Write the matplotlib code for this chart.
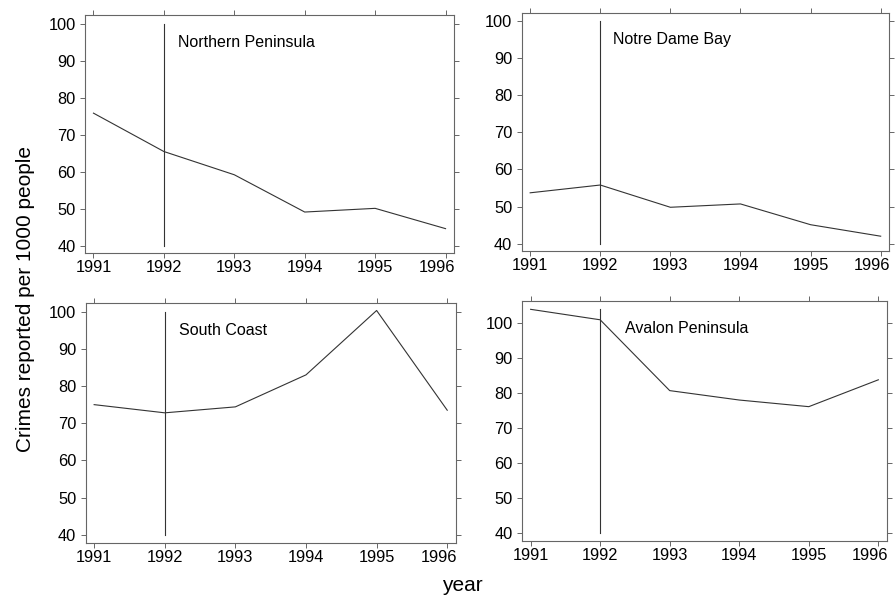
import matplotlib
matplotlib.use("Agg")
import matplotlib.pyplot as plt
from matplotlib.transforms import ScaledTranslation

plt.rcParams['font.family'] = ['Liberation Sans', 'DejaVu Sans']

years = [1991, 1992, 1993, 1994, 1995, 1996]
regions = ["Northern Peninsula", "Notre Dame Bay", "South Coast", "Avalon Peninsula"]
northern = [75.9, 65.5, 59.2, 49.1, 50.1, 44.6]
notre_dame = [53.7, 55.8, 49.8, 50.7, 45.1, 42.0]
south_coast = [75.0, 72.8, 74.4, 83.0, 100.3, 73.5]
avalon = [104.0, 101.0, 80.7, 78.0, 76.1, 83.8]
series = [northern, notre_dame, south_coast, avalon]
yticks = [40, 50, 60, 70, 80, 90, 100]
event_year = 1992
event_tops = [100, 100, 100, 104]

positions = [
    [0.0949, 0.5748, 0.4118, 0.4000],
    [0.5823, 0.5787, 0.4100, 0.3990],
    [0.0956, 0.0879, 0.4130, 0.4034],
    [0.5829, 0.0908, 0.4067, 0.4034],
]
ylims = [(38.0, 102.5), (38.1, 102.1), (37.9, 102.4), (37.6, 106.4)]
label_pos = [(1992.2, 95), (1992.18, 95), (1992.2, 95), (1992.35, 98.6)]

fig = plt.figure(figsize=(8.96, 5.95), dpi=100)
line_color = "#333333"
frame_color = "#666666"
for i in range(4):
    ax = fig.add_axes(positions[i])
    ax.plot(years, series[i], color=line_color, lw=0.8)
    ax.plot([event_year, event_year], [40, event_tops[i]], color=line_color, lw=0.8)
    ax.set_xlim(1990.88, 1996.12)
    ax.set_ylim(*ylims[i])
    ax.set_xticks(years)
    ax.set_yticks(yticks)
    ax.tick_params(direction='out', length=3.8, width=0.7, color=frame_color,
                   labelsize=11.8, top=True, right=True, labeltop=False, labelright=False,
                   pad=3)
    ax.tick_params(axis='x', pad=1.5)
    # last year label sits slightly left of its tick, as in the original
    last = ax.xaxis.get_major_ticks()[-1].label1
    last.set_transform(last.get_transform() + ScaledTranslation(-0.085, 0, fig.dpi_scale_trans))
    for s in ax.spines.values():
        s.set_color(frame_color)
        s.set_linewidth(0.8)
    ax.text(label_pos[i][0], label_pos[i][1], regions[i], fontsize=11.5,
            ha='left', va='center', color='black')

fig.text(0.029, 0.497, "Crimes reported per 1000 people", rotation=90,
         ha='center', va='center', fontsize=15)
fig.text(0.516, 0.0067, "year", ha='center', va='baseline', fontsize=15)

fig.savefig("out.png", dpi=100)
